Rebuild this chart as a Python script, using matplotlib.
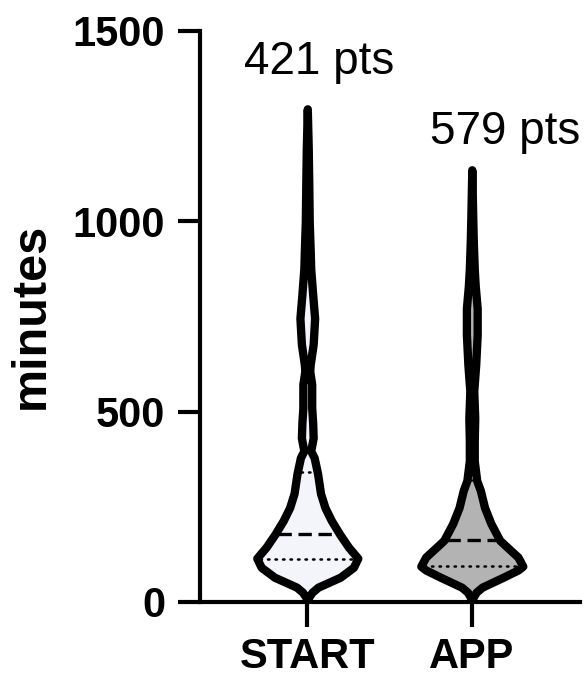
import matplotlib
matplotlib.use('Agg')
import matplotlib.pyplot as plt
import numpy as np

categories = ['START', 'APP']
counts = ['421 pts', '579 pts']
fill_colors = ['#f4f4fb', '#b3b3b3']

# violin outline: minutes vs relative half-width
start_y = [0, 13, 26, 39, 65, 91, 115, 144, 178, 214, 248, 285, 337, 379, 397,
           431, 470, 510, 572, 606, 624, 677, 745, 807, 875, 920, 998, 1100, 1189, 1295]
start_w = [0, 1.5, 5, 11, 33.5, 47, 51.5, 42, 33, 24.5, 18, 13.5, 10.5, 7, 3.5,
           6, 5.5, 4.5, 4.5, 2.5, 3, 6, 7.5, 5.5, 3.5, 3, 2, 1.5, 1, 0]
app_y = [0, 13, 26, 39, 65, 84, 94, 118, 144, 162, 206, 248, 293, 319, 371,
         423, 483, 554, 624, 703, 771, 830, 875, 950, 1006, 1135]
app_w = [0, 1.5, 4.5, 10.5, 32, 47, 52, 47, 36, 28.5, 19.5, 13, 8.7, 5, 2.5,
         2.5, 3, 2, 4, 5.5, 5.5, 3.5, 2.5, 1.5, 1, 0]

# quartiles (Q1, median, Q3) in minutes
start_q = [113, 179, 341]
app_q = [95, 163, 320]

profiles = [(start_y, start_w, start_q), (app_y, app_w, app_q)]

fig = plt.figure(figsize=(5.84, 6.76), dpi=100)
ax = fig.add_axes([0.3425, 0.1095, 0.651, 0.845])

max_half = 0.31
wmax = max(max(start_w), max(app_w))
for i, (ys, ws, qs) in enumerate(profiles):
    ys = np.array(ys, dtype=float)
    ws = np.array(ws, dtype=float) / wmax * max_half
    ax.fill_betweenx(ys, i - ws, i + ws, facecolor=fill_colors[i],
                     edgecolor='black', linewidth=6, joinstyle='round', zorder=2)
    for k, q in enumerate(qs):
        hw = np.interp(q, ys, ws) - 0.02
        if k == 1:
            ax.plot([i - hw, i + hw], [q, q], color='black', linestyle=(0, (4, 2)),
                    linewidth=2.4, zorder=3)
        else:
            ax.plot([i - hw, i + hw], [q, q], color='black', linestyle=(0, (0.6, 2.4)),
                    linewidth=1.8, dash_capstyle='round', zorder=3)

ax.text(0.07, 1418, counts[0], ha='center', va='center', fontsize=33,
        family='Liberation Sans')
ax.text(1.2, 1235, counts[1], ha='center', va='center', fontsize=33,
        family='Liberation Sans')

ax.set_xlim(-0.652, 1.659)
ax.set_ylim(0, 1500)
ax.set_yticks([0, 500, 1000, 1500])
ax.set_xticks([0, 1])
ax.set_xticklabels(categories)
ax.set_ylabel('minutes', fontsize=35, fontweight='bold', family='Liberation Sans',
              labelpad=14)

for s in ['top', 'right']:
    ax.spines[s].set_visible(False)
for s in ['left', 'bottom']:
    ax.spines[s].set_linewidth(3)
ax.tick_params(axis='y', length=16, width=3, pad=9)
ax.tick_params(axis='x', length=18, width=3, pad=7)
for lab in ax.get_yticklabels():
    lab.set_fontsize(30)
    lab.set_fontweight('bold')
    lab.set_family('Liberation Sans')
for lab in ax.get_xticklabels():
    lab.set_fontsize(30)
    lab.set_fontweight('bold')
    lab.set_family('Liberation Sans')

fig.savefig('out.png', dpi=100)
